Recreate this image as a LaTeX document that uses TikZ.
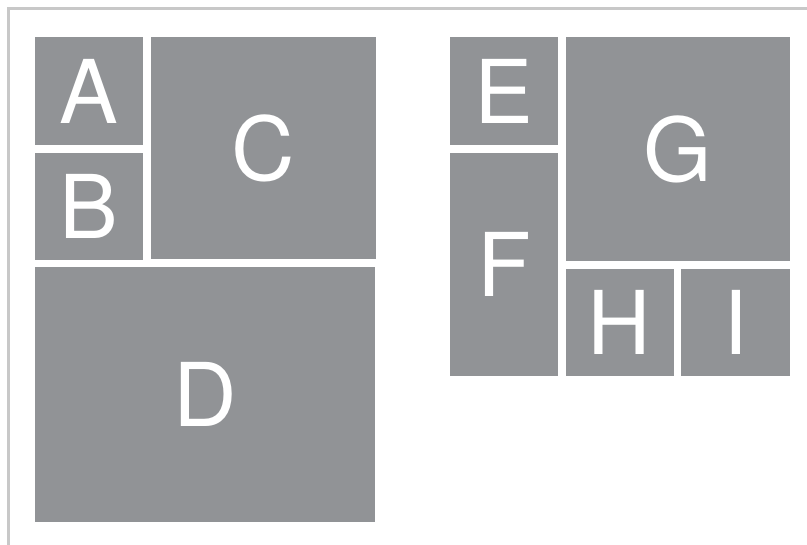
\documentclass[tikz,border=0pt]{standalone}
\usepackage{fontspec}
\setmainfont{TeX Gyre Heros}
\usepackage{xcolor}
\usetikzlibrary{positioning}
\definecolor{tilegray}{RGB}{145,147,150}
\definecolor{framegray}{RGB}{200,200,200}

\begin{document}
\begin{tikzpicture}[x=1pt, y=1pt,
    tile/.style={rectangle, fill=tilegray, text=white, inner sep=0pt, anchor=north west,
      font=\fontsize{88}{88}\selectfont},
    frame/.style={draw=framegray, line width=3pt}]

    \clip (0,0) rectangle (807,545);
    \useasboundingbox (0,0) rectangle (807,545);
    \draw[frame] (8,-20) |- (830,536);

    % left block
    \node[tile, minimum width=108, minimum height=108] (a) at (35,508) {A};
    \node[tile, minimum width=108, minimum height=107, below right=7pt and 0pt of a.south west] (b) {B};
    \node[tile, minimum width=225, minimum height=222, below right=0pt and 7pt of a.north east] (c) {C};
    \node[tile, minimum width=340, minimum height=255, below right=7pt and 0pt of b.south west] (d) {D};

    % right block
    \node[tile, minimum width=108, minimum height=108] (e) at (450,508) {E};
    \node[tile, minimum width=108, minimum height=223, below right=7pt and 0pt of e.south west] (f) {F};
    \node[tile, minimum width=224, minimum height=224, below right=0pt and 7pt of e.north east] (g) {G};
    \node[tile, minimum width=108, minimum height=107, below right=7pt and 0pt of g.south west] (h) {H};
    \node[tile, minimum width=109, minimum height=107, below right=0pt and 7pt of h.north east] (i) {I};
\end{tikzpicture}
\end{document}
